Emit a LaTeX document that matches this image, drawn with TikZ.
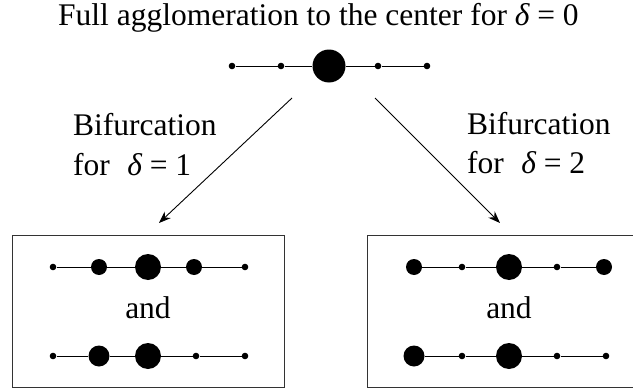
\documentclass[tikz,border=0pt]{standalone}
\usepackage{fontspec}
\setmainfont{Liberation Serif}
\newfontfamily\tnr{Liberation Serif}
\usetikzlibrary{arrows.meta}
\begin{document}
\begin{tikzpicture}[x=1pt,y=-1pt,
  sdot/.style={circle,fill=black,inner sep=0pt,minimum size=6.6pt},
  mdot/.style={circle,fill=black,inner sep=0pt,minimum size=16pt},
  ldot/.style={circle,fill=black,inner sep=0pt,minimum size=21pt},
  bdot/.style={circle,fill=black,inner sep=0pt,minimum size=26pt},
  hdot/.style={circle,fill=black,inner sep=0pt,minimum size=33pt},
  chain/.style={line width=1pt},
  frame/.style={draw=black!80,line width=1.2pt},
  arr/.style={line width=0.9pt,-{Stealth[length=12pt,width=9pt]}},
  lbl/.style={font=\tnr\fontsize{31.5}{36}\selectfont,inner sep=0pt,anchor=base west},
  andlbl/.style={font=\tnr\fontsize{31.5}{36}\selectfont,inner sep=0pt,anchor=base},
]
\useasboundingbox (0,0) rectangle (633,391);
% title
\node[lbl] (title) at (58,25) {Full agglomeration to the center for {\itshape δ} = 0};
% top chain
\node[sdot] (t1) at (232,66) {};
\node[sdot] (t2) at (281,66) {};
\node[hdot] (t3) at (329,66) {};
\node[sdot] (t4) at (378,66) {};
\node[sdot] (t5) at (427,66) {};
\draw[chain] (t1) -- (t2) -- (t3) -- (t4) -- (t5);
% arrows
\coordinate (la) at (292,98);
\coordinate (lb) at (159,223);
\coordinate (ra) at (375,98);
\coordinate (rb) at (500,223);
\draw[arr] (la) -- (lb);
\draw[arr] (ra) -- (rb);
% labels
\node[lbl] (l1) at (73,135) {Bifurcation};
\node[lbl] (l2) at (73,175) {for\hspace{0.55em}{\itshape δ} = 1};
\node[lbl] (r1) at (467,134) {Bifurcation};
\node[lbl] (r2) at (467,173) {for\hspace{0.55em}{\itshape δ} = 2};
% boxes
\node[frame,inner sep=0pt,minimum width=272pt,minimum height=152pt,anchor=north west] (lbox) at (12,235) {};
\node[frame,inner sep=0pt,minimum width=273pt,minimum height=152pt,anchor=north west] (rbox) at (367,235) {};
% left box
\node[sdot] (a1) at (53,267) {};
\node[mdot] (a2) at (99,267) {};
\node[bdot] (a3) at (148,267) {};
\node[mdot] (a4) at (194,267) {};
\node[sdot] (a5) at (245,267) {};
\draw[chain] (a1) -- (a2) -- (a3) -- (a4) -- (a5);
\node[andlbl] (aand) at (148,318) {and};
\node[sdot] (b1) at (53,356) {};
\node[ldot] (b2) at (99,356) {};
\node[bdot] (b3) at (148,356) {};
\node[sdot] (b4) at (196,356) {};
\node[sdot] (b5) at (245,356) {};
\draw[chain] (b1) -- (b2) -- (b3) -- (b4) -- (b5);
% right box
\node[mdot] (c1) at (414,267) {};
\node[sdot] (c2) at (462,267) {};
\node[bdot] (c3) at (509,267) {};
\node[sdot] (c4) at (557,267) {};
\node[mdot] (c5) at (604,267) {};
\draw[chain] (c1) -- (c2) -- (c3) -- (c4) -- (c5);
\node[andlbl] (cand) at (509,318) {and};
\node[ldot] (d1) at (414,356) {};
\node[sdot] (d2) at (462,356) {};
\node[bdot] (d3) at (509,356) {};
\node[sdot] (d4) at (557,356) {};
\node[sdot] (d5) at (606,356) {};
\draw[chain] (d1) -- (d2) -- (d3) -- (d4) -- (d5);
\end{tikzpicture}
\end{document}
